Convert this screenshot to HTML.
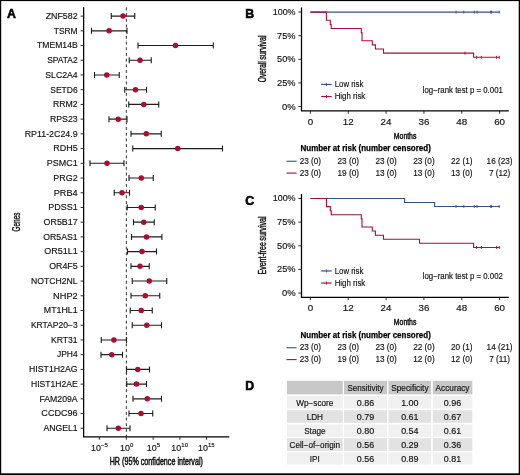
<!DOCTYPE html>
<html><head><meta charset="utf-8"><title>Figure</title>
<style>
html,body{margin:0;padding:0;background:#fff;}
body{width:520px;height:475px;overflow:hidden;}
svg{display:block;font-family:"Liberation Sans", sans-serif;will-change:transform;}
</style></head>
<body>
<svg width="520" height="475" viewBox="0 0 520 475" font-family='"Liberation Sans", sans-serif' fill="#111">
<rect width="520" height="475" fill="#fff"/>
<text x="7.00" y="17.85" font-size="12.3" text-anchor="start" font-weight="bold" fill="#000" stroke="#000" stroke-width="0.55">A</text>
<text transform="translate(19.5,222) rotate(-90) scale(0.57,1)" font-size="11.2" text-anchor="middle" fill="#111" stroke="#111" stroke-width="0.42">Genes</text>
<path d="M83.65,7.3 V436.8 H229.3" fill="none" stroke="#000" stroke-width="1.25"/>
<line x1="126.35" y1="7.4" x2="126.35" y2="436.8" stroke="#1a1a1a" stroke-width="0.9" stroke-dasharray="2.95 2.746"/>
<line x1="80.6" y1="16.10" x2="83.65" y2="16.10" stroke="#1a1a1a" stroke-width="0.9"/>
<text x="77.65" y="18.90" font-size="8.5" text-anchor="end" textLength="31.95" lengthAdjust="spacingAndGlyphs" stroke="#111" stroke-width="0.15">ZNF582</text>
<path d="M111.25,16.10 H134.75 M111.25,13.10 V19.10 M134.75,13.10 V19.10" stroke="#1e1e1e" stroke-width="1.12" fill="none"/>
<circle cx="123" cy="16.10" r="2.75" fill="#b00a30"/>
<line x1="80.6" y1="30.82" x2="83.65" y2="30.82" stroke="#1a1a1a" stroke-width="0.9"/>
<text x="77.65" y="33.62" font-size="8.5" text-anchor="end" textLength="23.89" lengthAdjust="spacingAndGlyphs" stroke="#111" stroke-width="0.15">TSRM</text>
<path d="M91.5,30.82 H127 M91.5,27.82 V33.82 M127,27.82 V33.82" stroke="#1e1e1e" stroke-width="1.12" fill="none"/>
<circle cx="109.1" cy="30.82" r="2.75" fill="#b00a30"/>
<line x1="80.6" y1="45.54" x2="83.65" y2="45.54" stroke="#1a1a1a" stroke-width="0.9"/>
<text x="77.65" y="48.34" font-size="8.5" text-anchor="end" textLength="40.51" lengthAdjust="spacingAndGlyphs" stroke="#111" stroke-width="0.15">TMEM14B</text>
<path d="M138,45.54 H213.25 M138,42.54 V48.54 M213.25,42.54 V48.54" stroke="#1e1e1e" stroke-width="1.12" fill="none"/>
<circle cx="175.5" cy="45.54" r="2.75" fill="#b00a30"/>
<line x1="80.6" y1="60.26" x2="83.65" y2="60.26" stroke="#1a1a1a" stroke-width="0.9"/>
<text x="77.65" y="63.06" font-size="8.5" text-anchor="end" textLength="30.41" lengthAdjust="spacingAndGlyphs" stroke="#111" stroke-width="0.15">SPATA2</text>
<path d="M129.25,60.26 H151.25 M129.25,57.26 V63.26 M151.25,57.26 V63.26" stroke="#1e1e1e" stroke-width="1.12" fill="none"/>
<circle cx="140" cy="60.26" r="2.75" fill="#b00a30"/>
<line x1="80.6" y1="74.98" x2="83.65" y2="74.98" stroke="#1a1a1a" stroke-width="0.9"/>
<text x="77.65" y="77.78" font-size="8.5" text-anchor="end" textLength="32.39" lengthAdjust="spacingAndGlyphs" stroke="#111" stroke-width="0.15">SLC2A4</text>
<path d="M94.5,74.98 H119.25 M94.5,71.98 V77.98 M119.25,71.98 V77.98" stroke="#1e1e1e" stroke-width="1.12" fill="none"/>
<circle cx="106.75" cy="74.98" r="2.75" fill="#b00a30"/>
<line x1="80.6" y1="89.70" x2="83.65" y2="89.70" stroke="#1a1a1a" stroke-width="0.9"/>
<text x="77.65" y="92.50" font-size="8.5" text-anchor="end" textLength="27.35" lengthAdjust="spacingAndGlyphs" stroke="#111" stroke-width="0.15">SETD6</text>
<path d="M124.75,89.70 H146.5 M124.75,86.70 V92.70 M146.5,86.70 V92.70" stroke="#1e1e1e" stroke-width="1.12" fill="none"/>
<circle cx="135.5" cy="89.70" r="2.75" fill="#b00a30"/>
<line x1="80.6" y1="104.42" x2="83.65" y2="104.42" stroke="#1a1a1a" stroke-width="0.9"/>
<text x="77.65" y="107.22" font-size="8.5" text-anchor="end" textLength="24.67" lengthAdjust="spacingAndGlyphs" stroke="#111" stroke-width="0.15">RRM2</text>
<path d="M128.75,104.42 H158.75 M128.75,101.42 V107.42 M158.75,101.42 V107.42" stroke="#1e1e1e" stroke-width="1.12" fill="none"/>
<circle cx="143.75" cy="104.42" r="2.75" fill="#b00a30"/>
<line x1="80.6" y1="119.14" x2="83.65" y2="119.14" stroke="#1a1a1a" stroke-width="0.9"/>
<text x="77.65" y="121.94" font-size="8.5" text-anchor="end" textLength="27.67" lengthAdjust="spacingAndGlyphs" stroke="#111" stroke-width="0.15">RPS23</text>
<path d="M109,119.14 H127 M109,116.14 V122.14 M127,116.14 V122.14" stroke="#1e1e1e" stroke-width="1.12" fill="none"/>
<circle cx="118.25" cy="119.14" r="2.75" fill="#b00a30"/>
<line x1="80.6" y1="133.86" x2="83.65" y2="133.86" stroke="#1a1a1a" stroke-width="0.9"/>
<text x="77.65" y="136.66" font-size="8.5" text-anchor="end" textLength="52.92" lengthAdjust="spacingAndGlyphs" stroke="#111" stroke-width="0.15">RP11-2C24.9</text>
<path d="M131,133.86 H161.25 M131,130.86 V136.86 M161.25,130.86 V136.86" stroke="#1e1e1e" stroke-width="1.12" fill="none"/>
<circle cx="146.25" cy="133.86" r="2.75" fill="#b00a30"/>
<line x1="80.6" y1="148.58" x2="83.65" y2="148.58" stroke="#1a1a1a" stroke-width="0.9"/>
<text x="77.65" y="151.38" font-size="8.5" text-anchor="end" textLength="24.47" lengthAdjust="spacingAndGlyphs" stroke="#111" stroke-width="0.15">RDH5</text>
<path d="M132.75,148.58 H222.5 M132.75,145.58 V151.58 M222.5,145.58 V151.58" stroke="#1e1e1e" stroke-width="1.12" fill="none"/>
<circle cx="177.75" cy="148.58" r="2.75" fill="#b00a30"/>
<line x1="80.6" y1="163.30" x2="83.65" y2="163.30" stroke="#1a1a1a" stroke-width="0.9"/>
<text x="77.65" y="166.10" font-size="8.5" text-anchor="end" textLength="30.85" lengthAdjust="spacingAndGlyphs" stroke="#111" stroke-width="0.15">PSMC1</text>
<path d="M90,163.30 H124 M90,160.30 V166.30 M124,160.30 V166.30" stroke="#1e1e1e" stroke-width="1.12" fill="none"/>
<circle cx="107" cy="163.30" r="2.75" fill="#b00a30"/>
<line x1="80.6" y1="178.02" x2="83.65" y2="178.02" stroke="#1a1a1a" stroke-width="0.9"/>
<text x="77.65" y="180.82" font-size="8.5" text-anchor="end" textLength="24.26" lengthAdjust="spacingAndGlyphs" stroke="#111" stroke-width="0.15">PRG2</text>
<path d="M129,178.02 H153.25 M129,175.02 V181.02 M153.25,175.02 V181.02" stroke="#1e1e1e" stroke-width="1.12" fill="none"/>
<circle cx="141.25" cy="178.02" r="2.75" fill="#b00a30"/>
<line x1="80.6" y1="192.74" x2="83.65" y2="192.74" stroke="#1a1a1a" stroke-width="0.9"/>
<text x="77.65" y="195.54" font-size="8.5" text-anchor="end" textLength="23.86" lengthAdjust="spacingAndGlyphs" stroke="#111" stroke-width="0.15">PRB4</text>
<path d="M114.25,192.74 H129.5 M114.25,189.74 V195.74 M129.5,189.74 V195.74" stroke="#1e1e1e" stroke-width="1.12" fill="none"/>
<circle cx="122" cy="192.74" r="2.75" fill="#b00a30"/>
<line x1="80.6" y1="207.46" x2="83.65" y2="207.46" stroke="#1a1a1a" stroke-width="0.9"/>
<text x="77.65" y="210.26" font-size="8.5" text-anchor="end" textLength="29.44" lengthAdjust="spacingAndGlyphs" stroke="#111" stroke-width="0.15">PDSS1</text>
<path d="M127.25,207.46 H155.25 M127.25,204.46 V210.46 M155.25,204.46 V210.46" stroke="#1e1e1e" stroke-width="1.12" fill="none"/>
<circle cx="141.25" cy="207.46" r="2.75" fill="#b00a30"/>
<line x1="80.6" y1="222.18" x2="83.65" y2="222.18" stroke="#1a1a1a" stroke-width="0.9"/>
<text x="77.65" y="224.98" font-size="8.5" text-anchor="end" textLength="34.05" lengthAdjust="spacingAndGlyphs" stroke="#111" stroke-width="0.15">OR5B17</text>
<path d="M133.5,222.18 H154.25 M133.5,219.18 V225.18 M154.25,219.18 V225.18" stroke="#1e1e1e" stroke-width="1.12" fill="none"/>
<circle cx="143.75" cy="222.18" r="2.75" fill="#b00a30"/>
<line x1="80.6" y1="236.90" x2="83.65" y2="236.90" stroke="#1a1a1a" stroke-width="0.9"/>
<text x="77.65" y="239.70" font-size="8.5" text-anchor="end" textLength="34.47" lengthAdjust="spacingAndGlyphs" stroke="#111" stroke-width="0.15">OR5AS1</text>
<path d="M131.5,236.90 H161.9 M131.5,233.90 V239.90 M161.9,233.90 V239.90" stroke="#1e1e1e" stroke-width="1.12" fill="none"/>
<circle cx="146.5" cy="236.90" r="2.75" fill="#b00a30"/>
<line x1="80.6" y1="251.62" x2="83.65" y2="251.62" stroke="#1a1a1a" stroke-width="0.9"/>
<text x="77.65" y="254.42" font-size="8.5" text-anchor="end" textLength="33.42" lengthAdjust="spacingAndGlyphs" stroke="#111" stroke-width="0.15">OR51L1</text>
<path d="M127.5,251.62 H156.5 M127.5,248.62 V254.62 M156.5,248.62 V254.62" stroke="#1e1e1e" stroke-width="1.12" fill="none"/>
<circle cx="142" cy="251.62" r="2.75" fill="#b00a30"/>
<line x1="80.6" y1="266.34" x2="83.65" y2="266.34" stroke="#1a1a1a" stroke-width="0.9"/>
<text x="77.65" y="269.14" font-size="8.5" text-anchor="end" textLength="28.39" lengthAdjust="spacingAndGlyphs" stroke="#111" stroke-width="0.15">OR4F5</text>
<path d="M131,266.34 H149.25 M131,263.34 V269.34 M149.25,263.34 V269.34" stroke="#1e1e1e" stroke-width="1.12" fill="none"/>
<circle cx="140" cy="266.34" r="2.75" fill="#b00a30"/>
<line x1="80.6" y1="281.06" x2="83.65" y2="281.06" stroke="#1a1a1a" stroke-width="0.9"/>
<text x="77.65" y="283.86" font-size="8.5" text-anchor="end" textLength="46.68" lengthAdjust="spacingAndGlyphs" stroke="#111" stroke-width="0.15">NOTCH2NL</text>
<path d="M132.25,281.06 H166.75 M132.25,278.06 V284.06 M166.75,278.06 V284.06" stroke="#1e1e1e" stroke-width="1.12" fill="none"/>
<circle cx="149.25" cy="281.06" r="2.75" fill="#b00a30"/>
<line x1="80.6" y1="295.78" x2="83.65" y2="295.78" stroke="#1a1a1a" stroke-width="0.9"/>
<text x="77.65" y="298.58" font-size="8.5" text-anchor="end" textLength="24.53" lengthAdjust="spacingAndGlyphs" stroke="#111" stroke-width="0.15">NHP2</text>
<path d="M131,295.78 H159.75 M131,292.78 V298.78 M159.75,292.78 V298.78" stroke="#1e1e1e" stroke-width="1.12" fill="none"/>
<circle cx="145.25" cy="295.78" r="2.75" fill="#b00a30"/>
<line x1="80.6" y1="310.50" x2="83.65" y2="310.50" stroke="#1a1a1a" stroke-width="0.9"/>
<text x="77.65" y="313.30" font-size="8.5" text-anchor="end" textLength="33.78" lengthAdjust="spacingAndGlyphs" stroke="#111" stroke-width="0.15">MT1HL1</text>
<path d="M130.25,310.50 H152.25 M130.25,307.50 V313.50 M152.25,307.50 V313.50" stroke="#1e1e1e" stroke-width="1.12" fill="none"/>
<circle cx="141.25" cy="310.50" r="2.75" fill="#b00a30"/>
<line x1="80.6" y1="325.22" x2="83.65" y2="325.22" stroke="#1a1a1a" stroke-width="0.9"/>
<text x="77.65" y="328.02" font-size="8.5" text-anchor="end" textLength="46.75" lengthAdjust="spacingAndGlyphs" stroke="#111" stroke-width="0.15">KRTAP20&#8722;3</text>
<path d="M132.25,325.22 H161.5 M132.25,322.22 V328.22 M161.5,322.22 V328.22" stroke="#1e1e1e" stroke-width="1.12" fill="none"/>
<circle cx="146.75" cy="325.22" r="2.75" fill="#b00a30"/>
<line x1="80.6" y1="339.94" x2="83.65" y2="339.94" stroke="#1a1a1a" stroke-width="0.9"/>
<text x="77.65" y="342.74" font-size="8.5" text-anchor="end" textLength="26.52" lengthAdjust="spacingAndGlyphs" stroke="#111" stroke-width="0.15">KRT31</text>
<path d="M101.25,339.94 H126.5 M101.25,336.94 V342.94 M126.5,336.94 V342.94" stroke="#1e1e1e" stroke-width="1.12" fill="none"/>
<circle cx="113.9" cy="339.94" r="2.75" fill="#b00a30"/>
<line x1="80.6" y1="354.66" x2="83.65" y2="354.66" stroke="#1a1a1a" stroke-width="0.9"/>
<text x="77.65" y="357.46" font-size="8.5" text-anchor="end" textLength="20.59" lengthAdjust="spacingAndGlyphs" stroke="#111" stroke-width="0.15">JPH4</text>
<path d="M101,354.66 H122.5 M101,351.66 V357.66 M122.5,351.66 V357.66" stroke="#1e1e1e" stroke-width="1.12" fill="none"/>
<circle cx="111.75" cy="354.66" r="2.75" fill="#b00a30"/>
<line x1="80.6" y1="369.38" x2="83.65" y2="369.38" stroke="#1a1a1a" stroke-width="0.9"/>
<text x="77.65" y="372.18" font-size="8.5" text-anchor="end" textLength="48.64" lengthAdjust="spacingAndGlyphs" stroke="#111" stroke-width="0.15">HIST1H2AG</text>
<path d="M126.5,369.38 H149.5 M126.5,366.38 V372.38 M149.5,366.38 V372.38" stroke="#1e1e1e" stroke-width="1.12" fill="none"/>
<circle cx="137.75" cy="369.38" r="2.75" fill="#b00a30"/>
<line x1="80.6" y1="384.10" x2="83.65" y2="384.10" stroke="#1a1a1a" stroke-width="0.9"/>
<text x="77.65" y="386.90" font-size="8.5" text-anchor="end" textLength="46.6" lengthAdjust="spacingAndGlyphs" stroke="#111" stroke-width="0.15">HIST1H2AE</text>
<path d="M126.75,384.10 H146.5 M126.75,381.10 V387.10 M146.5,381.10 V387.10" stroke="#1e1e1e" stroke-width="1.12" fill="none"/>
<circle cx="136.5" cy="384.10" r="2.75" fill="#b00a30"/>
<line x1="80.6" y1="398.82" x2="83.65" y2="398.82" stroke="#1a1a1a" stroke-width="0.9"/>
<text x="77.65" y="401.62" font-size="8.5" text-anchor="end" textLength="38.2" lengthAdjust="spacingAndGlyphs" stroke="#111" stroke-width="0.15">FAM209A</text>
<path d="M133,398.82 H161.5 M133,395.82 V401.82 M161.5,395.82 V401.82" stroke="#1e1e1e" stroke-width="1.12" fill="none"/>
<circle cx="147.25" cy="398.82" r="2.75" fill="#b00a30"/>
<line x1="80.6" y1="413.54" x2="83.65" y2="413.54" stroke="#1a1a1a" stroke-width="0.9"/>
<text x="77.65" y="416.34" font-size="8.5" text-anchor="end" textLength="36.27" lengthAdjust="spacingAndGlyphs" stroke="#111" stroke-width="0.15">CCDC96</text>
<path d="M129,413.54 H152.75 M129,410.54 V416.54 M152.75,410.54 V416.54" stroke="#1e1e1e" stroke-width="1.12" fill="none"/>
<circle cx="141" cy="413.54" r="2.75" fill="#b00a30"/>
<line x1="80.6" y1="428.26" x2="83.65" y2="428.26" stroke="#1a1a1a" stroke-width="0.9"/>
<text x="77.65" y="431.06" font-size="8.5" text-anchor="end" textLength="34.21" lengthAdjust="spacingAndGlyphs" stroke="#111" stroke-width="0.15">ANGEL1</text>
<path d="M107,428.26 H130 M107,425.26 V431.26 M130,425.26 V431.26" stroke="#1e1e1e" stroke-width="1.12" fill="none"/>
<circle cx="118.25" cy="428.26" r="2.75" fill="#b00a30"/>
<line x1="99.3" y1="436.8" x2="99.3" y2="439.8" stroke="#1a1a1a" stroke-width="0.9"/>
<line x1="126.35" y1="436.8" x2="126.35" y2="439.8" stroke="#1a1a1a" stroke-width="0.9"/>
<line x1="153.2" y1="436.8" x2="153.2" y2="439.8" stroke="#1a1a1a" stroke-width="0.9"/>
<line x1="179.9" y1="436.8" x2="179.9" y2="439.8" stroke="#1a1a1a" stroke-width="0.9"/>
<line x1="206.6" y1="436.8" x2="206.6" y2="439.8" stroke="#1a1a1a" stroke-width="0.9"/>
<text x="91.10" y="450.50" font-size="8.7" text-anchor="start" textLength="9.9" lengthAdjust="spacingAndGlyphs" stroke="#111" stroke-width="0.15">10</text>
<text x="101.10" y="447.20" font-size="6.0" text-anchor="start" stroke="#111" stroke-width="0.15">&#8722;5</text>
<text x="119.95" y="450.50" font-size="8.7" text-anchor="start" textLength="9.9" lengthAdjust="spacingAndGlyphs" stroke="#111" stroke-width="0.15">10</text>
<text x="129.95" y="447.20" font-size="6.0" text-anchor="start" stroke="#111" stroke-width="0.15">0</text>
<text x="146.80" y="450.50" font-size="8.7" text-anchor="start" textLength="9.9" lengthAdjust="spacingAndGlyphs" stroke="#111" stroke-width="0.15">10</text>
<text x="156.80" y="447.20" font-size="6.0" text-anchor="start" stroke="#111" stroke-width="0.15">5</text>
<text x="171.30" y="450.50" font-size="8.7" text-anchor="start" textLength="9.9" lengthAdjust="spacingAndGlyphs" stroke="#111" stroke-width="0.15">10</text>
<text x="181.30" y="447.20" font-size="6.0" text-anchor="start" stroke="#111" stroke-width="0.15">10</text>
<text x="198.00" y="450.50" font-size="8.7" text-anchor="start" textLength="9.9" lengthAdjust="spacingAndGlyphs" stroke="#111" stroke-width="0.15">10</text>
<text x="208.00" y="447.20" font-size="6.0" text-anchor="start" stroke="#111" stroke-width="0.15">15</text>
<text transform="translate(109.7,464.6) scale(0.69,1)" font-size="10.4" fill="#111" stroke="#111" stroke-width="0.5">HR (95% confidence interval)</text>
<text x="245.20" y="17.85" font-size="12.3" text-anchor="start" font-weight="bold" fill="#000" stroke="#000" stroke-width="0.55">B</text>
<text transform="translate(266.0,82.30) rotate(-90) scale(0.667,1)" font-size="10" fill="#111" stroke="#111" stroke-width="0.42">Overall</text>
<text transform="translate(266.0,59.85) rotate(-90) scale(0.72,1)" font-size="10" fill="#111" stroke="#111" stroke-width="0.42">survival</text>
<path d="M301.5,7.50 V110.85 H508.8" fill="none" stroke="#000" stroke-width="1.3"/>
<line x1="298.4" y1="12.00" x2="301.5" y2="12.00" stroke="#1a1a1a" stroke-width="0.9"/>
<text x="295.60" y="14.90" font-size="8.6" text-anchor="end" textLength="22.9" lengthAdjust="spacingAndGlyphs" stroke="#111" stroke-width="0.15">100%</text>
<line x1="298.4" y1="35.65" x2="301.5" y2="35.65" stroke="#1a1a1a" stroke-width="0.9"/>
<text x="295.60" y="38.55" font-size="8.6" text-anchor="end" textLength="18.5" lengthAdjust="spacingAndGlyphs" stroke="#111" stroke-width="0.15">75%</text>
<line x1="298.4" y1="59.30" x2="301.5" y2="59.30" stroke="#1a1a1a" stroke-width="0.9"/>
<text x="295.60" y="62.20" font-size="8.6" text-anchor="end" textLength="18.5" lengthAdjust="spacingAndGlyphs" stroke="#111" stroke-width="0.15">50%</text>
<line x1="298.4" y1="82.95" x2="301.5" y2="82.95" stroke="#1a1a1a" stroke-width="0.9"/>
<text x="295.60" y="85.85" font-size="8.6" text-anchor="end" textLength="18.5" lengthAdjust="spacingAndGlyphs" stroke="#111" stroke-width="0.15">25%</text>
<line x1="298.4" y1="106.60" x2="301.5" y2="106.60" stroke="#1a1a1a" stroke-width="0.9"/>
<text x="295.60" y="109.50" font-size="8.6" text-anchor="end" textLength="13.7" lengthAdjust="spacingAndGlyphs" stroke="#111" stroke-width="0.15">0%</text>
<line x1="310.40" y1="110.85" x2="310.40" y2="113.75" stroke="#1a1a1a" stroke-width="0.9"/>
<text x="310.40" y="124.85" font-size="8.8" text-anchor="middle" textLength="5.45" lengthAdjust="spacingAndGlyphs" stroke="#111" stroke-width="0.15">0</text>
<line x1="348.24" y1="110.85" x2="348.24" y2="113.75" stroke="#1a1a1a" stroke-width="0.9"/>
<text x="348.24" y="124.85" font-size="8.8" text-anchor="middle" textLength="10.9" lengthAdjust="spacingAndGlyphs" stroke="#111" stroke-width="0.15">12</text>
<line x1="386.08" y1="110.85" x2="386.08" y2="113.75" stroke="#1a1a1a" stroke-width="0.9"/>
<text x="386.08" y="124.85" font-size="8.8" text-anchor="middle" textLength="10.9" lengthAdjust="spacingAndGlyphs" stroke="#111" stroke-width="0.15">24</text>
<line x1="423.92" y1="110.85" x2="423.92" y2="113.75" stroke="#1a1a1a" stroke-width="0.9"/>
<text x="423.92" y="124.85" font-size="8.8" text-anchor="middle" textLength="10.9" lengthAdjust="spacingAndGlyphs" stroke="#111" stroke-width="0.15">36</text>
<line x1="461.76" y1="110.85" x2="461.76" y2="113.75" stroke="#1a1a1a" stroke-width="0.9"/>
<text x="461.76" y="124.85" font-size="8.8" text-anchor="middle" textLength="10.9" lengthAdjust="spacingAndGlyphs" stroke="#111" stroke-width="0.15">48</text>
<line x1="499.60" y1="110.85" x2="499.60" y2="113.75" stroke="#1a1a1a" stroke-width="0.9"/>
<text x="499.60" y="124.85" font-size="8.8" text-anchor="middle" textLength="10.9" lengthAdjust="spacingAndGlyphs" stroke="#111" stroke-width="0.15">60</text>
<text transform="translate(405.1,138.60) scale(0.715,1)" font-size="9.6" text-anchor="middle" fill="#111" stroke="#111" stroke-width="0.5">Months</text>
<path d="M310.40,12.10 L499.60,12.10" fill="none" stroke="#33508a" stroke-width="1.1"/>
<path d="M310.40,12.10 L326.40,12.10 L326.40,20.30 L330.30,20.30 L330.30,24.40 L331.20,24.40 L331.20,28.50 L361.30,28.50 L361.30,32.60 L362.00,32.60 L362.00,40.80 L372.30,40.80 L372.30,44.90 L375.40,44.90 L375.40,49.00 L383.50,49.00 L383.50,53.15 L473.60,53.15 L473.60,57.30 L499.60,57.30" fill="none" stroke="#a60f36" stroke-width="1.1"/>
<line x1="456.0" y1="10.60" x2="456.0" y2="13.60" stroke="#33508a" stroke-width="0.9"/>
<line x1="463.8" y1="10.60" x2="463.8" y2="13.60" stroke="#33508a" stroke-width="0.9"/>
<line x1="474.3" y1="10.60" x2="474.3" y2="13.60" stroke="#33508a" stroke-width="0.9"/>
<line x1="477.1" y1="10.60" x2="477.1" y2="13.60" stroke="#33508a" stroke-width="0.9"/>
<line x1="490.7" y1="10.60" x2="490.7" y2="13.60" stroke="#33508a" stroke-width="0.9"/>
<line x1="491.6" y1="10.60" x2="491.6" y2="13.60" stroke="#33508a" stroke-width="0.9"/>
<line x1="499.2" y1="10.60" x2="499.2" y2="13.60" stroke="#33508a" stroke-width="0.9"/>
<line x1="465.0" y1="51.65" x2="465.0" y2="54.65" stroke="#a60f36" stroke-width="0.9"/>
<line x1="476.6" y1="55.80" x2="476.6" y2="58.80" stroke="#a60f36" stroke-width="0.9"/>
<line x1="481.3" y1="55.80" x2="481.3" y2="58.80" stroke="#a60f36" stroke-width="0.9"/>
<line x1="496.5" y1="55.80" x2="496.5" y2="58.80" stroke="#a60f36" stroke-width="0.9"/>
<line x1="499.3" y1="55.80" x2="499.3" y2="58.80" stroke="#a60f36" stroke-width="0.9"/>
<line x1="321.2" y1="84.45" x2="331.6" y2="84.45" stroke="#33508a" stroke-width="1.2"/>
<line x1="326.4" y1="82.90" x2="326.4" y2="86.00" stroke="#33508a" stroke-width="0.9"/>
<line x1="321.2" y1="96.55" x2="331.6" y2="96.55" stroke="#a60f36" stroke-width="1.2"/>
<line x1="326.4" y1="95.00" x2="326.4" y2="98.10" stroke="#a60f36" stroke-width="0.9"/>
<text x="334.70" y="87.00" font-size="8.5" text-anchor="start" textLength="28.7" lengthAdjust="spacingAndGlyphs" stroke="#111" stroke-width="0.15">Low risk</text>
<text x="334.70" y="99.00" font-size="8.5" text-anchor="start" textLength="30.6" lengthAdjust="spacingAndGlyphs" stroke="#111" stroke-width="0.15">High risk</text>
<text x="422.70" y="92.80" font-size="8.4" text-anchor="start" textLength="80.2" lengthAdjust="spacingAndGlyphs" stroke="#111" stroke-width="0.15">log&#8722;rank test p = 0.001</text>
<text x="300.50" y="151.20" font-size="8.4" text-anchor="start" font-weight="bold" fill="#000" textLength="130.3" lengthAdjust="spacingAndGlyphs" stroke="#000" stroke-width="0.25">Number at risk (number censored)</text>
<line x1="286.5" y1="161.25" x2="296.6" y2="161.25" stroke="#33508a" stroke-width="1.1"/>
<line x1="286.5" y1="173.10" x2="296.6" y2="173.10" stroke="#a60f36" stroke-width="1.1"/>
<text x="310.40" y="163.70" font-size="8.2" text-anchor="middle" stroke="#111" stroke-width="0.15">23 (0)</text>
<text x="310.40" y="175.60" font-size="8.2" text-anchor="middle" stroke="#111" stroke-width="0.15">23 (0)</text>
<text x="348.24" y="163.70" font-size="8.2" text-anchor="middle" stroke="#111" stroke-width="0.15">23 (0)</text>
<text x="348.24" y="175.60" font-size="8.2" text-anchor="middle" stroke="#111" stroke-width="0.15">19 (0)</text>
<text x="386.08" y="163.70" font-size="8.2" text-anchor="middle" stroke="#111" stroke-width="0.15">23 (0)</text>
<text x="386.08" y="175.60" font-size="8.2" text-anchor="middle" stroke="#111" stroke-width="0.15">13 (0)</text>
<text x="423.92" y="163.70" font-size="8.2" text-anchor="middle" stroke="#111" stroke-width="0.15">23 (0)</text>
<text x="423.92" y="175.60" font-size="8.2" text-anchor="middle" stroke="#111" stroke-width="0.15">13 (0)</text>
<text x="461.76" y="163.70" font-size="8.2" text-anchor="middle" stroke="#111" stroke-width="0.15">22 (1)</text>
<text x="461.76" y="175.60" font-size="8.2" text-anchor="middle" stroke="#111" stroke-width="0.15">13 (0)</text>
<text x="499.60" y="163.70" font-size="8.2" text-anchor="middle" stroke="#111" stroke-width="0.15">16 (23)</text>
<text x="499.60" y="175.60" font-size="8.2" text-anchor="middle" stroke="#111" stroke-width="0.15">7 (12)</text>
<text x="245.20" y="204.55" font-size="12.3" text-anchor="start" font-weight="bold" fill="#000" stroke="#000" stroke-width="0.55">C</text>
<text transform="translate(266.0,274.50) rotate(-90) scale(0.7,1)" font-size="10" fill="#111" stroke="#111" stroke-width="0.42">Event-free</text>
<text transform="translate(266.0,240.65) rotate(-90) scale(0.718,1)" font-size="10" fill="#111" stroke="#111" stroke-width="0.42">survival</text>
<path d="M301.5,194.00 V297.35 H508.8" fill="none" stroke="#000" stroke-width="1.3"/>
<line x1="298.4" y1="198.50" x2="301.5" y2="198.50" stroke="#1a1a1a" stroke-width="0.9"/>
<text x="295.60" y="201.40" font-size="8.6" text-anchor="end" textLength="22.9" lengthAdjust="spacingAndGlyphs" stroke="#111" stroke-width="0.15">100%</text>
<line x1="298.4" y1="222.15" x2="301.5" y2="222.15" stroke="#1a1a1a" stroke-width="0.9"/>
<text x="295.60" y="225.05" font-size="8.6" text-anchor="end" textLength="18.5" lengthAdjust="spacingAndGlyphs" stroke="#111" stroke-width="0.15">75%</text>
<line x1="298.4" y1="245.80" x2="301.5" y2="245.80" stroke="#1a1a1a" stroke-width="0.9"/>
<text x="295.60" y="248.70" font-size="8.6" text-anchor="end" textLength="18.5" lengthAdjust="spacingAndGlyphs" stroke="#111" stroke-width="0.15">50%</text>
<line x1="298.4" y1="269.45" x2="301.5" y2="269.45" stroke="#1a1a1a" stroke-width="0.9"/>
<text x="295.60" y="272.35" font-size="8.6" text-anchor="end" textLength="18.5" lengthAdjust="spacingAndGlyphs" stroke="#111" stroke-width="0.15">25%</text>
<line x1="298.4" y1="293.10" x2="301.5" y2="293.10" stroke="#1a1a1a" stroke-width="0.9"/>
<text x="295.60" y="296.00" font-size="8.6" text-anchor="end" textLength="13.7" lengthAdjust="spacingAndGlyphs" stroke="#111" stroke-width="0.15">0%</text>
<line x1="310.40" y1="297.35" x2="310.40" y2="300.25" stroke="#1a1a1a" stroke-width="0.9"/>
<text x="310.40" y="311.35" font-size="8.8" text-anchor="middle" textLength="5.45" lengthAdjust="spacingAndGlyphs" stroke="#111" stroke-width="0.15">0</text>
<line x1="348.24" y1="297.35" x2="348.24" y2="300.25" stroke="#1a1a1a" stroke-width="0.9"/>
<text x="348.24" y="311.35" font-size="8.8" text-anchor="middle" textLength="10.9" lengthAdjust="spacingAndGlyphs" stroke="#111" stroke-width="0.15">12</text>
<line x1="386.08" y1="297.35" x2="386.08" y2="300.25" stroke="#1a1a1a" stroke-width="0.9"/>
<text x="386.08" y="311.35" font-size="8.8" text-anchor="middle" textLength="10.9" lengthAdjust="spacingAndGlyphs" stroke="#111" stroke-width="0.15">24</text>
<line x1="423.92" y1="297.35" x2="423.92" y2="300.25" stroke="#1a1a1a" stroke-width="0.9"/>
<text x="423.92" y="311.35" font-size="8.8" text-anchor="middle" textLength="10.9" lengthAdjust="spacingAndGlyphs" stroke="#111" stroke-width="0.15">36</text>
<line x1="461.76" y1="297.35" x2="461.76" y2="300.25" stroke="#1a1a1a" stroke-width="0.9"/>
<text x="461.76" y="311.35" font-size="8.8" text-anchor="middle" textLength="10.9" lengthAdjust="spacingAndGlyphs" stroke="#111" stroke-width="0.15">48</text>
<line x1="499.60" y1="297.35" x2="499.60" y2="300.25" stroke="#1a1a1a" stroke-width="0.9"/>
<text x="499.60" y="311.35" font-size="8.8" text-anchor="middle" textLength="10.9" lengthAdjust="spacingAndGlyphs" stroke="#111" stroke-width="0.15">60</text>
<text transform="translate(405.1,325.10) scale(0.715,1)" font-size="9.6" text-anchor="middle" fill="#111" stroke="#111" stroke-width="0.5">Months</text>
<path d="M310.40,198.55 L404.60,198.55 L404.60,202.45 L434.60,202.45 L434.60,206.45 L499.60,206.45" fill="none" stroke="#33508a" stroke-width="1.1"/>
<path d="M310.40,198.55 L326.40,198.55 L326.40,206.60 L330.30,206.60 L330.30,210.70 L331.20,210.70 L331.20,214.80 L361.30,214.80 L361.30,218.90 L362.00,218.90 L362.00,227.00 L372.30,227.00 L372.30,231.00 L375.40,231.00 L375.40,235.20 L383.50,235.20 L383.50,239.30 L419.50,239.30 L419.50,243.30 L473.60,243.30 L473.60,247.45 L499.60,247.45" fill="none" stroke="#a60f36" stroke-width="1.1"/>
<line x1="456.0" y1="204.95" x2="456.0" y2="207.95" stroke="#33508a" stroke-width="0.9"/>
<line x1="463.8" y1="204.95" x2="463.8" y2="207.95" stroke="#33508a" stroke-width="0.9"/>
<line x1="474.3" y1="204.95" x2="474.3" y2="207.95" stroke="#33508a" stroke-width="0.9"/>
<line x1="477.1" y1="204.95" x2="477.1" y2="207.95" stroke="#33508a" stroke-width="0.9"/>
<line x1="490.7" y1="204.95" x2="490.7" y2="207.95" stroke="#33508a" stroke-width="0.9"/>
<line x1="491.6" y1="204.95" x2="491.6" y2="207.95" stroke="#33508a" stroke-width="0.9"/>
<line x1="499.2" y1="204.95" x2="499.2" y2="207.95" stroke="#33508a" stroke-width="0.9"/>
<line x1="476.6" y1="245.95" x2="476.6" y2="248.95" stroke="#a60f36" stroke-width="0.9"/>
<line x1="481.3" y1="245.95" x2="481.3" y2="248.95" stroke="#a60f36" stroke-width="0.9"/>
<line x1="496.5" y1="245.95" x2="496.5" y2="248.95" stroke="#a60f36" stroke-width="0.9"/>
<line x1="499.3" y1="245.95" x2="499.3" y2="248.95" stroke="#a60f36" stroke-width="0.9"/>
<line x1="321.2" y1="270.95" x2="331.6" y2="270.95" stroke="#33508a" stroke-width="1.2"/>
<line x1="326.4" y1="269.40" x2="326.4" y2="272.50" stroke="#33508a" stroke-width="0.9"/>
<line x1="321.2" y1="283.05" x2="331.6" y2="283.05" stroke="#a60f36" stroke-width="1.2"/>
<line x1="326.4" y1="281.50" x2="326.4" y2="284.60" stroke="#a60f36" stroke-width="0.9"/>
<text x="334.70" y="273.50" font-size="8.5" text-anchor="start" textLength="28.7" lengthAdjust="spacingAndGlyphs" stroke="#111" stroke-width="0.15">Low risk</text>
<text x="334.70" y="285.50" font-size="8.5" text-anchor="start" textLength="30.6" lengthAdjust="spacingAndGlyphs" stroke="#111" stroke-width="0.15">High risk</text>
<text x="422.70" y="279.30" font-size="8.4" text-anchor="start" textLength="80.2" lengthAdjust="spacingAndGlyphs" stroke="#111" stroke-width="0.15">log&#8722;rank test p = 0.002</text>
<text x="300.50" y="337.70" font-size="8.4" text-anchor="start" font-weight="bold" fill="#000" textLength="130.3" lengthAdjust="spacingAndGlyphs" stroke="#000" stroke-width="0.25">Number at risk (number censored)</text>
<line x1="286.5" y1="347.75" x2="296.6" y2="347.75" stroke="#33508a" stroke-width="1.1"/>
<line x1="286.5" y1="359.60" x2="296.6" y2="359.60" stroke="#a60f36" stroke-width="1.1"/>
<text x="310.40" y="350.20" font-size="8.2" text-anchor="middle" stroke="#111" stroke-width="0.15">23 (0)</text>
<text x="310.40" y="362.10" font-size="8.2" text-anchor="middle" stroke="#111" stroke-width="0.15">23 (0)</text>
<text x="348.24" y="350.20" font-size="8.2" text-anchor="middle" stroke="#111" stroke-width="0.15">23 (0)</text>
<text x="348.24" y="362.10" font-size="8.2" text-anchor="middle" stroke="#111" stroke-width="0.15">19 (0)</text>
<text x="386.08" y="350.20" font-size="8.2" text-anchor="middle" stroke="#111" stroke-width="0.15">23 (0)</text>
<text x="386.08" y="362.10" font-size="8.2" text-anchor="middle" stroke="#111" stroke-width="0.15">13 (0)</text>
<text x="423.92" y="350.20" font-size="8.2" text-anchor="middle" stroke="#111" stroke-width="0.15">22 (0)</text>
<text x="423.92" y="362.10" font-size="8.2" text-anchor="middle" stroke="#111" stroke-width="0.15">12 (0)</text>
<text x="461.76" y="350.20" font-size="8.2" text-anchor="middle" stroke="#111" stroke-width="0.15">20 (1)</text>
<text x="461.76" y="362.10" font-size="8.2" text-anchor="middle" stroke="#111" stroke-width="0.15">12 (0)</text>
<text x="499.60" y="350.20" font-size="8.2" text-anchor="middle" stroke="#111" stroke-width="0.15">14 (21)</text>
<text x="499.60" y="362.10" font-size="8.2" text-anchor="middle" stroke="#111" stroke-width="0.15">7 (11)</text>
<text x="245.20" y="390.40" font-size="12.3" text-anchor="start" font-weight="bold" fill="#000" stroke="#000" stroke-width="0.55">D</text>
<rect x="286.9" y="380.8" width="55.90" height="13.60" fill="#c8c8c8"/>
<rect x="344.0" y="380.8" width="43.00" height="13.60" fill="#c8c8c8"/>
<rect x="388.6" y="380.8" width="42.50" height="13.60" fill="#c8c8c8"/>
<rect x="432.8" y="380.8" width="39.50" height="13.60" fill="#c8c8c8"/>
<rect x="286.9" y="396.0" width="55.90" height="12.50" fill="#f0f0f0"/>
<rect x="344.0" y="396.0" width="43.00" height="12.50" fill="#f0f0f0"/>
<rect x="388.6" y="396.0" width="42.50" height="12.50" fill="#f0f0f0"/>
<rect x="432.8" y="396.0" width="39.50" height="12.50" fill="#f0f0f0"/>
<rect x="286.9" y="410.2" width="55.90" height="12.60" fill="#e2e2e2"/>
<rect x="344.0" y="410.2" width="43.00" height="12.60" fill="#e2e2e2"/>
<rect x="388.6" y="410.2" width="42.50" height="12.60" fill="#e2e2e2"/>
<rect x="432.8" y="410.2" width="39.50" height="12.60" fill="#e2e2e2"/>
<rect x="286.9" y="424.4" width="55.90" height="12.40" fill="#f0f0f0"/>
<rect x="344.0" y="424.4" width="43.00" height="12.40" fill="#f0f0f0"/>
<rect x="388.6" y="424.4" width="42.50" height="12.40" fill="#f0f0f0"/>
<rect x="432.8" y="424.4" width="39.50" height="12.40" fill="#f0f0f0"/>
<rect x="286.9" y="438.3" width="55.90" height="12.50" fill="#e2e2e2"/>
<rect x="344.0" y="438.3" width="43.00" height="12.50" fill="#e2e2e2"/>
<rect x="388.6" y="438.3" width="42.50" height="12.50" fill="#e2e2e2"/>
<rect x="432.8" y="438.3" width="39.50" height="12.50" fill="#e2e2e2"/>
<rect x="286.9" y="452.5" width="55.90" height="12.10" fill="#f0f0f0"/>
<rect x="344.0" y="452.5" width="43.00" height="12.10" fill="#f0f0f0"/>
<rect x="388.6" y="452.5" width="42.50" height="12.10" fill="#f0f0f0"/>
<rect x="432.8" y="452.5" width="39.50" height="12.10" fill="#f0f0f0"/>
<text x="365.50" y="391.00" font-size="8.2" text-anchor="middle" textLength="36.2" lengthAdjust="spacingAndGlyphs" stroke="#111" stroke-width="0.15">Sensitivity</text>
<text x="409.85" y="391.00" font-size="8.2" text-anchor="middle" textLength="37.4" lengthAdjust="spacingAndGlyphs" stroke="#111" stroke-width="0.15">Specificity</text>
<text x="452.55" y="391.00" font-size="8.2" text-anchor="middle" textLength="33.9" lengthAdjust="spacingAndGlyphs" stroke="#111" stroke-width="0.15">Accuracy</text>
<text x="314.85" y="405.65" font-size="8.2" text-anchor="middle" stroke="#111" stroke-width="0.15">Wp&#8722;score</text>
<text x="365.50" y="405.65" font-size="8.2" text-anchor="middle" textLength="17.4" lengthAdjust="spacingAndGlyphs" stroke="#111" stroke-width="0.15">0.86</text>
<text x="409.85" y="405.65" font-size="8.2" text-anchor="middle" textLength="17.4" lengthAdjust="spacingAndGlyphs" stroke="#111" stroke-width="0.15">1.00</text>
<text x="452.55" y="405.65" font-size="8.2" text-anchor="middle" textLength="17.4" lengthAdjust="spacingAndGlyphs" stroke="#111" stroke-width="0.15">0.96</text>
<text x="314.85" y="419.90" font-size="8.2" text-anchor="middle" stroke="#111" stroke-width="0.15">LDH</text>
<text x="365.50" y="419.90" font-size="8.2" text-anchor="middle" textLength="17.4" lengthAdjust="spacingAndGlyphs" stroke="#111" stroke-width="0.15">0.79</text>
<text x="409.85" y="419.90" font-size="8.2" text-anchor="middle" textLength="17.4" lengthAdjust="spacingAndGlyphs" stroke="#111" stroke-width="0.15">0.61</text>
<text x="452.55" y="419.90" font-size="8.2" text-anchor="middle" textLength="17.4" lengthAdjust="spacingAndGlyphs" stroke="#111" stroke-width="0.15">0.67</text>
<text x="314.85" y="434.00" font-size="8.2" text-anchor="middle" stroke="#111" stroke-width="0.15">Stage</text>
<text x="365.50" y="434.00" font-size="8.2" text-anchor="middle" textLength="17.4" lengthAdjust="spacingAndGlyphs" stroke="#111" stroke-width="0.15">0.80</text>
<text x="409.85" y="434.00" font-size="8.2" text-anchor="middle" textLength="17.4" lengthAdjust="spacingAndGlyphs" stroke="#111" stroke-width="0.15">0.54</text>
<text x="452.55" y="434.00" font-size="8.2" text-anchor="middle" textLength="17.4" lengthAdjust="spacingAndGlyphs" stroke="#111" stroke-width="0.15">0.61</text>
<text x="314.85" y="447.95" font-size="8.2" text-anchor="middle" stroke="#111" stroke-width="0.15">Cell&#8722;of&#8722;origin</text>
<text x="365.50" y="447.95" font-size="8.2" text-anchor="middle" textLength="17.4" lengthAdjust="spacingAndGlyphs" stroke="#111" stroke-width="0.15">0.56</text>
<text x="409.85" y="447.95" font-size="8.2" text-anchor="middle" textLength="17.4" lengthAdjust="spacingAndGlyphs" stroke="#111" stroke-width="0.15">0.29</text>
<text x="452.55" y="447.95" font-size="8.2" text-anchor="middle" textLength="17.4" lengthAdjust="spacingAndGlyphs" stroke="#111" stroke-width="0.15">0.36</text>
<text x="314.85" y="461.95" font-size="8.2" text-anchor="middle" stroke="#111" stroke-width="0.15">IPI</text>
<text x="365.50" y="461.95" font-size="8.2" text-anchor="middle" textLength="17.4" lengthAdjust="spacingAndGlyphs" stroke="#111" stroke-width="0.15">0.56</text>
<text x="409.85" y="461.95" font-size="8.2" text-anchor="middle" textLength="17.4" lengthAdjust="spacingAndGlyphs" stroke="#111" stroke-width="0.15">0.89</text>
<text x="452.55" y="461.95" font-size="8.2" text-anchor="middle" textLength="17.4" lengthAdjust="spacingAndGlyphs" stroke="#111" stroke-width="0.15">0.81</text>
<rect x="0" y="0" width="520" height="1.1" fill="#000"/>
<rect x="0" y="0" width="1.2" height="475" fill="#000"/>
<rect x="518.7" y="0" width="1.3" height="475" fill="#000"/>
<rect x="0" y="473.3" width="520" height="1.7" fill="#000"/>
</svg>
</body></html>
